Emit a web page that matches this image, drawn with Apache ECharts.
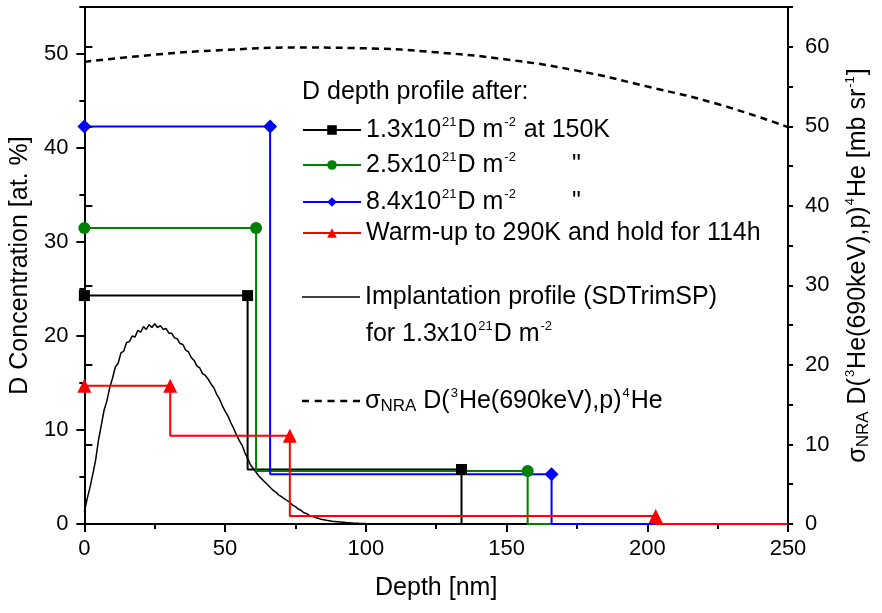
<!DOCTYPE html>
<html><head><meta charset="utf-8">
<script src="https://cdn.jsdelivr.net/npm/echarts@6/dist/echarts.min.js"></script>
<style>html,body{margin:0;padding:0;background:#fff}#c{width:882px;height:613px}</style>
</head><body><div id="c"></div>
<script>
const FONT = '"Liberation Sans", Arial, sans-serif';

// Step profiles (depth in nm, concentration in at.%); mark = 1 where a symbol is drawn
const blackDepth = [0, 58, 58, 134, 134, 250];
const blackConc  = [24.3, 24.3, 5.8, 5.8, 0, 0];
const blackMark  = [1, 1, 0, 1, 0, 0];

const greenDepth = [0, 61, 61, 157.5, 157.5, 250];
const greenConc  = [31.5, 31.5, 5.65, 5.65, 0, 0];
const greenMark  = [1, 1, 0, 1, 0, 0];

const blueDepth = [0, 66, 66, 166, 166, 250];
const blueConc  = [42.3, 42.3, 5.3, 5.3, 0, 0];
const blueMark  = [1, 1, 0, 1, 0, 0];

const redDepth = [0, 30.5, 30.5, 73, 73, 203, 203, 250];
const redConc  = [14.7, 14.7, 9.4, 9.4, 0.85, 0.85, 0, 0];
const redMark  = [1, 1, 0, 1, 0, 1, 0, 0];

// SDTrimSP implantation profile
const implDepth = [0,1,2,3,4,5,6,7,8,9,10,11,12,13,14,15,16,17,18,19,20,21,22,23,24,25,26,27,28,29,30,31,32,33,34,35,36,37,38,39,40,41,42,43,44,45,46,47,48,49,50,51,52,53,54,55,56,57,58,59,60,61,62,63,64,65,66,67,68,69,70,71,72,73,74,75,76,77,78,79,80,81,82,83,84,85,86,87,88,89,90,91,92,93,94,95,96,97,98,99,100,102,105,110];
const implConc  = [1.3,2.7,3.9,5.3,6.8,8.9,10.5,12.1,13.1,14.5,15.5,16.7,17.1,18.2,18.4,19.3,19.4,20.0,19.9,20.6,20.4,21.0,20.7,21.2,20.9,21.3,20.9,21.1,20.7,20.8,20.3,20.3,19.8,19.7,19.2,19.1,18.5,18.3,17.7,17.4,16.8,16.6,16.0,15.8,15.4,14.9,14.5,13.8,13.3,12.6,12.0,11.5,10.8,10.2,9.5,8.9,8.4,7.6,7.0,6.3,5.9,5.5,5.1,4.8,4.5,4.2,3.9,3.6,3.4,3.1,2.9,2.7,2.5,2.3,2.0,1.85,1.6,1.45,1.2,1.1,0.9,0.82,0.7,0.62,0.5,0.46,0.4,0.35,0.3,0.27,0.24,0.21,0.18,0.15,0.13,0.11,0.09,0.08,0.06,0.05,0.04,0.03,0.01,0];

// NRA cross-section (right axis, mb/sr)
const sigmaDepth = [0, 25, 50, 75, 100, 125, 150, 175, 200, 225, 250];
const sigmaVal   = [58.1, 59.0, 59.6, 59.9, 59.8, 59.3, 58.4, 57.0, 55.0, 52.8, 49.9];

const leftMajor  = [0, 10, 20, 30, 40, 50];
const rightMajor = [0, 10, 20, 30, 40, 50, 60];

const N_BLACK = 'black', N_GREEN = 'green', N_BLUE = 'blue', N_RED = 'red', N_IMPL = 'impl', N_SIG = 'sigma';
const legendText = {
  black: '1.3x10{sup|21}D m{sup|-2} at 150K',
  green: '2.5x10{sup|21}D m{sup|-2}{q|"}',
  blue:  '8.4x10{sup|21}D m{sup|-2}{q|"}',
  red:   'Warm-up to 290K and hold for 114h',
  impl:  'Implantation profile (SDTrimSP)',
  sigma: '{sig|σ}{sub|NRA} D({sup|3}He(690keV),p){sup|4}He'
};

const FS = 25;
const richStyles = {
  sup: {fontSize: 13, fontFamily: FONT, color: '#000', verticalAlign: 'top', lineHeight: 14, padding: [0, 1, 0, 1]},
  sub: {fontSize: 17, fontFamily: FONT, color: '#000', verticalAlign: 'bottom', lineHeight: 17, padding: [0, 0, 0, 0]},
  sig: {fontSize: FS, fontFamily: FONT, color: '#000'},
  q:   {fontSize: FS, fontFamily: FONT, color: '#000', padding: [0, 0, 0, 55]}
};

function stepSeries(name, depth, conc, mark, color, symbol, size) {
  return {
    name, type: 'line', xAxisIndex: 0, yAxisIndex: 0,
    data: depth.map((d, i) => ({value: [d, conc[i]], symbol: mark[i] ? symbol : 'none'})),
    symbol, symbolSize: size, showAllSymbol: true,
    color, itemStyle: {color}, lineStyle: {color, width: 2},
    clip: false, animation: false, z: 3
  };
}

const tickStyle = {color: '#000', width: 2};
const labelStyle = {color: '#000', fontSize: 22, fontFamily: FONT};
const legendTextStyle = {fontSize: FS, fontFamily: FONT, color: '#000', lineHeight: 28, rich: richStyles};
const solidIcon = 'path://M0,0h58v1.5h-58z';
const dashIcon = 'path://M0,0h7v2.5h-7zM12.75,0h7v2.5h-7zM25.5,0h7v2.5h-7zM38.25,0h7v2.5h-7zM51,0h7v2.5h-7z';

function legendRow(item, top, h) {
  return {data: [item], orient: 'vertical', left: 302, top,
    itemWidth: 58, itemHeight: h, selectedMode: false, padding: 0,
    formatter: n => legendText[n], textStyle: legendTextStyle};
}

const chart = echarts.init(document.getElementById('c'), null, {renderer: 'canvas'});
chart.setOption({
  backgroundColor: '#fff',
  animation: false,
  grid: {left: 84, right: 94, top: 7, bottom: 89, containLabel: false},
  title: [
    {text: 'D depth profile after:', left: 302, top: 80, padding: 0,
     textStyle: {fontSize: FS, fontWeight: 'normal', fontFamily: FONT, color: '#000'}},
    {text: 'for 1.3x10{sup|21}D m{sup|-2}', left: 366, top: 320, padding: 0,
     textStyle: {fontSize: FS, fontWeight: 'normal', fontFamily: FONT, color: '#000', lineHeight: 28, rich: richStyles}}
  ],
  legend: [
    legendRow(N_BLACK, 116, 12),
    legendRow(N_GREEN, 151, 12),
    legendRow(N_BLUE, 188, 12),
    legendRow(N_RED, 219, 12),
    legendRow({name: N_IMPL, icon: solidIcon}, 283, 1.5),
    legendRow({name: N_SIG, icon: dashIcon}, 387, 2.5)
  ],
  xAxis: [
    {type: 'value', position: 'bottom', min: 0, max: 250, interval: 50,
     axisLine: {lineStyle: tickStyle}, axisTick: {length: 8, lineStyle: tickStyle},
     minorTick: {show: true, splitNumber: 2, length: 5, lineStyle: tickStyle},
     splitLine: {show: false}, minorSplitLine: {show: false},
     axisLabel: Object.assign({margin: 14}, labelStyle),
     name: 'Depth [nm]', nameLocation: 'middle', nameGap: 52,
     nameTextStyle: {fontSize: FS, fontFamily: FONT, color: '#000'}},
    {type: 'value', position: 'top', min: 0, max: 250,
     axisLine: {onZero: false, lineStyle: tickStyle}, axisTick: {show: false},
     axisLabel: {show: false}, splitLine: {show: false}}
  ],
  yAxis: [
    {type: 'value', position: 'left', min: 0, max: 55, interval: 5,
     axisLine: {onZero: false, lineStyle: tickStyle}, axisTick: {length: 5, lineStyle: tickStyle},
     splitLine: {show: false},
     axisLabel: Object.assign({margin: 16, formatter: v => (v % 10 === 0 ? String(v) : '')}, labelStyle),
     name: 'D Concentration [at. %]', nameLocation: 'middle', nameGap: 46,
     nameTextStyle: {fontSize: FS, fontFamily: FONT, color: '#000'}},
    {type: 'value', position: 'right', min: 0, max: 65, interval: 5,
     axisLine: {onZero: false, lineStyle: tickStyle}, axisTick: {length: 5, lineStyle: tickStyle},
     splitLine: {show: false},
     axisLabel: Object.assign({margin: 17, formatter: v => (v % 10 === 0 ? String(v) : '')}, labelStyle),
     name: '{sig|σ}{sub|NRA} D({sup|3}He(690keV),p){sup|4}He [mb sr{sup|-1}]', nameLocation: 'middle', nameGap: 56,
     nameTextStyle: {fontSize: FS, fontFamily: FONT, color: '#000', lineHeight: 28, rich: richStyles}},
    {type: 'value', position: 'left', min: 0, max: 55, interval: 10,
     axisLine: {show: false}, axisTick: {length: 8, lineStyle: tickStyle, customValues: leftMajor},
     axisLabel: {show: false}, splitLine: {show: false}},
    {type: 'value', position: 'right', min: 0, max: 65, interval: 10,
     axisLine: {show: false}, axisTick: {length: 8, lineStyle: tickStyle, customValues: rightMajor},
     axisLabel: {show: false}, splitLine: {show: false}}
  ],
  series: [
    {name: N_IMPL, type: 'line', xAxisIndex: 0, yAxisIndex: 0,
     data: implDepth.map((d, i) => [d, implConc[i]]), symbol: 'none', color: '#000',
     lineStyle: {color: '#000', width: 1.5}, z: 2},
    {name: N_SIG, type: 'line', xAxisIndex: 0, yAxisIndex: 1, smooth: true,
     data: sigmaDepth.map((d, i) => [d, sigmaVal[i]]), symbol: 'none', color: '#000',
     lineStyle: {color: '#000', width: 2.5, type: [7, 5]}, z: 2},
    stepSeries(N_BLACK, blackDepth, blackConc, blackMark, '#000000', 'rect', 11),
    stepSeries(N_GREEN, greenDepth, greenConc, greenMark, '#008000', 'circle', 12),
    stepSeries(N_BLUE, blueDepth, blueConc, blueMark, '#0000ff', 'diamond', 14),
    stepSeries(N_RED, redDepth, redConc, redMark, '#ff0000', 'triangle', 14)
  ]
});
</script></body></html>
